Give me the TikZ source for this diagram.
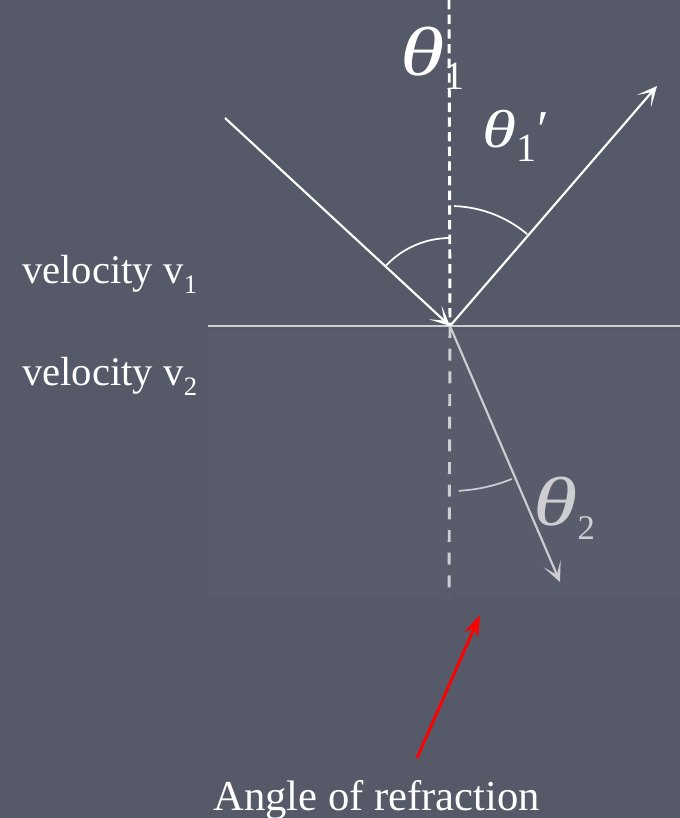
\documentclass[tikz,border=0pt]{standalone}
\usepackage{fontspec}
\setmainfont{Liberation Serif}
\usepackage{tikz}
\usetikzlibrary{arrows.meta, positioning, calc}

\definecolor{slate}{RGB}{86,89,104}
\definecolor{slatelight}{RGB}{89,92,107}
\definecolor{raygray}{RGB}{205,205,210}

\newcommand{\wtheta}{\scalebox{1.3}[1]{\textit{θ}}}

\begin{document}
\begin{tikzpicture}[x=0.75pt, y=0.75pt,
  ray/.style={white, line width=1.6pt, -{Stealth[length=15pt, width=14pt, inset=9pt]}},
  anglearc/.style={white, line width=1.3pt},
  lbl/.style={text=white, inner sep=0pt, anchor=base west}]

\fill[slate] (0,0) rectangle (680,-818);
\useasboundingbox (0,0) rectangle (680,-818);
\fill[slatelight] (208,-330) rectangle (680,-598);

% points of the drawing
\coordinate (O) at (450,-326);
\coordinate (inc) at (225,-118);
\coordinate (refl) at (657,-86);
\coordinate (refr) at (560,-582);
\coordinate (ntop) at (449,0);
\coordinate (nbot) at (449,-598);
\coordinate (surfL) at (208,-326);
\coordinate (surfR) at (680,-326);
\coordinate (redtail) at (417,-758);
\coordinate (redtip) at (480,-615);

% boundary and normal
\draw[raygray, line width=2.2pt] (surfL) -- (surfR);
\draw[white, line width=2.2pt, dash pattern=on 7pt off 4pt] (ntop) -- (O);
\draw[raygray, line width=2.2pt, dash pattern=on 9pt off 8pt] (O) -- (nbot);

% rays
\draw[ray] (inc) -- (O);
\draw[ray] (O) -- (refl);
\draw[ray, raygray] (O) -- (refr);

% angles
\draw[anglearc] (O) ++(137:88) arc[start angle=137, end angle=90, radius=88];
\draw[anglearc] (O) ++(88:120) arc[start angle=88, end angle=50, radius=120];
\draw[anglearc, raygray] (O) ++(-87:165) arc[start angle=-87, end angle=-68, radius=165];

% labels
\node[lbl, font=\fontsize{52}{52}\selectfont] (th1) at (400,-75)
  {\wtheta\raisebox{-11pt}{\fontsize{30}{30}\selectfont 1}};
\node[lbl, font=\fontsize{40}{40}\selectfont] (th1p) at (482,-147)
  {\wtheta\raisebox{-11pt}{\fontsize{30}{30}\selectfont 1}\kern1pt′};
\node[lbl, text=raygray, font=\fontsize{52}{52}\selectfont] (th2) at (533,-525)
  {\wtheta\raisebox{-11pt}{\fontsize{26}{26}\selectfont 2}};

\node[lbl, font=\fontsize{30.5}{30.5}\selectfont] (v1) at (22,-283)
  {velocity v\raisebox{-7.5pt}{\fontsize{20}{20}\selectfont 1}};
\node[lbl, font=\fontsize{30.5}{30.5}\selectfont] (v2) at (22,-385)
  {velocity v\raisebox{-7.5pt}{\fontsize{20}{20}\selectfont 2}};

\node[lbl, font=\fontsize{32}{32}\selectfont] (refrlbl) at (213,-810) {Angle of refraction};
\draw[red, line width=2.2pt, -{Stealth[length=16pt, width=11pt, inset=5pt]}] (redtail) -- (redtip);

\end{tikzpicture}
\end{document}
